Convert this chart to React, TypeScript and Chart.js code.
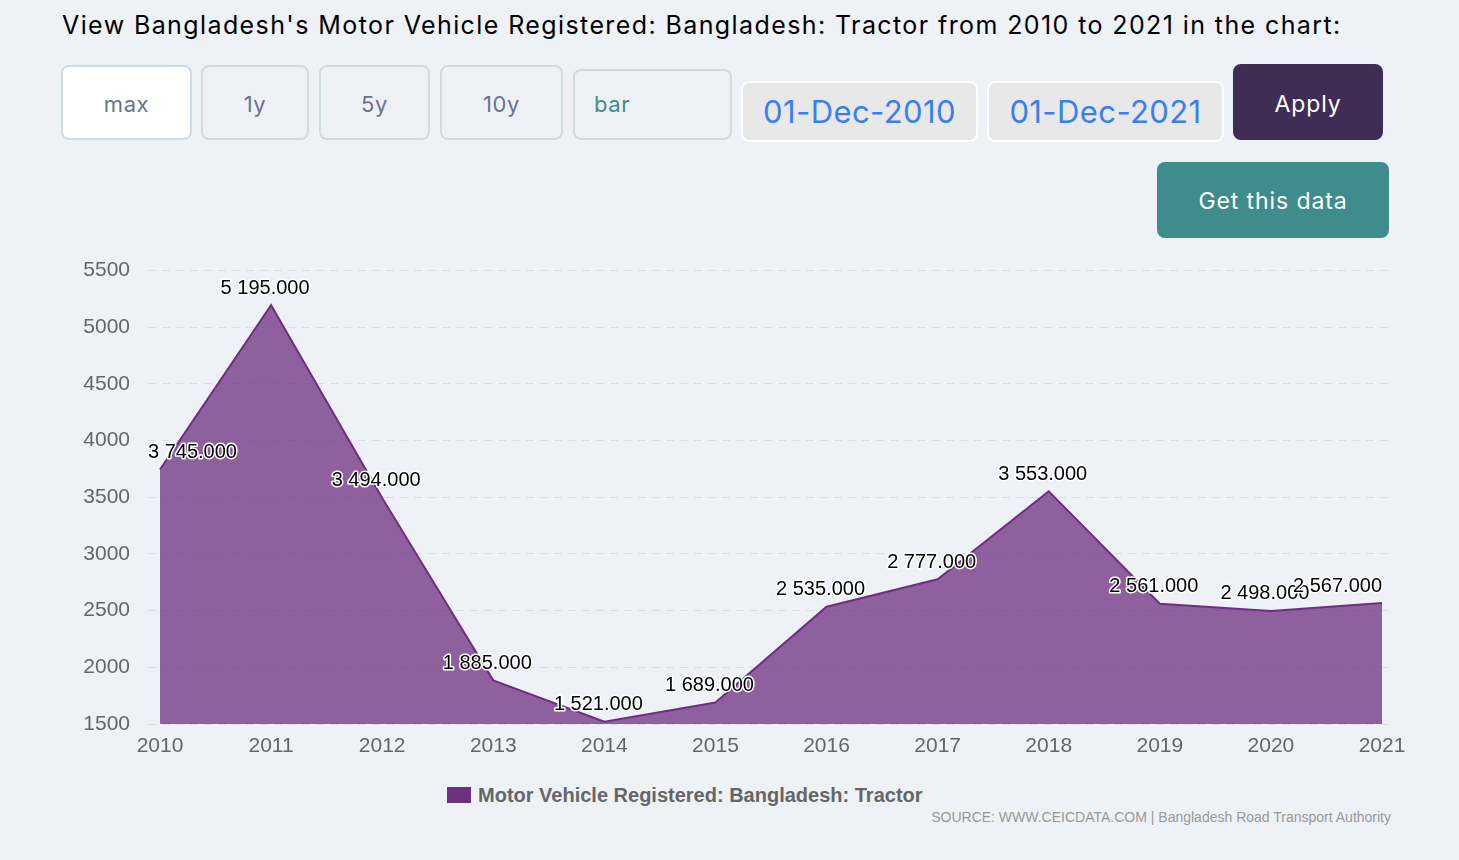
import React, { useEffect, useRef } from "react";
import { Chart, registerables } from "chart.js";

Chart.register(...registerables);

const years: number[] = [2010, 2011, 2012, 2013, 2014, 2015, 2016, 2017, 2018, 2019, 2020, 2021];
const tractorValues: number[] = [3745, 5195, 3494, 1885, 1521, 1689, 2535, 2777, 3553, 2561, 2498, 2567];
const yTicks: number[] = [1500, 2000, 2500, 3000, 3500, 4000, 4500, 5000, 5500];
const seriesLabel = "Motor Vehicle Registered: Bangladesh: Tractor";
const sourceText = "SOURCE: WWW.CEICDATA.COM | Bangladesh Road Transport Authority";

const LINE_COLOR = "#6f2f80";
const FILL_COLOR = "rgba(111,47,128,0.75)";

function fmt(v: number): string {
  const s = v.toFixed(3);
  const [i, d] = s.split(".");
  return i.replace(/\B(?=(\d{3})+(?!\d))/g, " ") + "." + d;
}

const dataLabelPlugin = {
  id: "dataLabels",
  afterDatasetsDraw(chart: any) {
    const ctx = chart.ctx;
    const meta = chart.getDatasetMeta(0);
    const area = chart.chartArea;
    ctx.save();
    ctx.font = "20px 'Liberation Sans', Arial, sans-serif";
    ctx.textBaseline = "middle";
    ctx.textAlign = "left";
    ctx.lineJoin = "round";
    meta.data.forEach((pt: any, i: number) => {
      const text = fmt(tractorValues[i]);
      const w = ctx.measureText(text).width;
      let left = pt.x - 6 - w / 2;
      if (left < area.left) left = area.left;
      if (left + w > area.right - 13) left = area.right - 13 - w;
      const y = pt.y - 17;
      ctx.strokeStyle = "#ffffff";
      ctx.lineWidth = 3;
      ctx.strokeText(text, left, y);
      ctx.fillStyle = "#000000";
      ctx.fillText(text, left, y);
    });
    ctx.restore();
  },
};

function TractorChart() {
  const ref = useRef<HTMLCanvasElement | null>(null);
  useEffect(() => {
    if (!ref.current) return;
    const chart = new Chart(ref.current, {
      type: "line",
      data: {
        datasets: [
          {
            label: seriesLabel,
            data: years.map((y, i) => ({ x: y, y: tractorValues[i] })),
            borderColor: LINE_COLOR,
            backgroundColor: FILL_COLOR,
            borderWidth: 2,
            fill: "start",
            tension: 0,
            pointRadius: 0,
          },
        ],
      },
      options: {
        animation: false,
        responsive: false,
        maintainAspectRatio: false,
        layout: { padding: { top: 29, right: 64, left: 0, bottom: 0 } },
        plugins: {
          legend: { display: false },
          tooltip: { enabled: false },
        },
        scales: {
          x: {
            type: "linear",
            min: 2010 - 12 / 111.09,
            max: 2021 + 13 / 111.09,
            afterBuildTicks: (axis: any) => {
              axis.ticks = years.map((v) => ({ value: v }));
            },
            afterFit: (axis: any) => {
              axis.height = 46;
            },
            grid: { display: false, drawTicks: false },
            border: { display: false },
            ticks: {
              padding: 10,
              color: "#666666",
              font: { family: "'Liberation Sans', Arial, sans-serif", size: 21 },
              callback: (v: any) => String(v),
              maxRotation: 0,
              autoSkip: false,
            },
          },
          y: {
            min: 1500,
            max: 5500,
            afterBuildTicks: (axis: any) => {
              axis.ticks = yTicks.map((v) => ({ value: v }));
            },
            afterFit: (axis: any) => {
              axis.width = 148;
            },
            grid: { color: "#dcdde0", lineWidth: 1, drawTicks: false },
            border: { display: false, dash: [8, 6] },
            ticks: {
              padding: 18,
              color: "#666666",
              font: { family: "'Liberation Sans', Arial, sans-serif", size: 21 },
              callback: (v: any) => String(v),
            },
          },
        },
      },
      plugins: [dataLabelPlugin],
    } as any);
    return () => chart.destroy();
  }, []);
  return <canvas ref={ref} width={1459} height={530} style={{ display: "block", width: 1459, height: 530 }} />;
}

const UI_FONT = "Inter, Roboto, 'Noto Sans', sans-serif";

const btnBase: React.CSSProperties = {
  position: "absolute",
  boxSizing: "border-box",
  display: "flex",
  alignItems: "center",
  justifyContent: "center",
  borderRadius: 8,
  fontFamily: UI_FONT,
};

export default function App() {
  useEffect(() => {
    document.body.style.margin = "0";
    document.body.style.background = "#eef1f6";
  }, []);
  const rangeBtn = (label: string, left: number, width: number, active: boolean) => (
    <div
      style={{
        ...btnBase,
        left,
        top: 65,
        width,
        height: 75,
        border: "2px solid #cfdbe4",
        background: active ? "#ffffff" : "#edf1f6",
        color: "#6b7290",
        fontSize: 22,
        letterSpacing: 0.6,
        paddingTop: 3,
      }}
    >
      {label}
    </div>
  );
  return (
    <div style={{ position: "absolute", left: 0, top: 0, width: 1459, height: 860, background: "#eef1f6", overflow: "hidden" }}>
      <div
        style={{
          position: "absolute",
          left: 62,
          top: 8,
          fontFamily: UI_FONT,
          fontSize: 25,
          letterSpacing: 1.4,
          lineHeight: "34px",
          color: "#000",
          whiteSpace: "nowrap",
        }}
      >
        View Bangladesh's Motor Vehicle Registered: Bangladesh: Tractor from 2010 to 2021 in the chart:
      </div>
      {rangeBtn("max", 61, 131, true)}
      {rangeBtn("1y", 201, 108, false)}
      {rangeBtn("5y", 319, 111, false)}
      {rangeBtn("10y", 440, 123, false)}
      <div
        style={{
          ...btnBase,
          left: 573,
          top: 69,
          width: 159,
          height: 71,
          border: "2px solid #cfdbe4",
          background: "#edf1f6",
          color: "#3f8c8d",
          fontSize: 22,
          letterSpacing: 0.6,
          justifyContent: "flex-start",
          paddingLeft: 19,
          paddingBottom: 2,
        }}
      >
        bar
      </div>
      <div style={{ ...btnBase, left: 741, top: 81, width: 237, height: 61, border: "2px solid #ffffff", background: "#e8e8e8", color: "#3a7ff0", fontSize: 31, letterSpacing: 0.4 }}>
        01-Dec-2010
      </div>
      <div style={{ ...btnBase, left: 987, top: 81, width: 237, height: 61, border: "2px solid #ffffff", background: "#e8e8e8", color: "#3a7ff0", fontSize: 31, letterSpacing: 0.4 }}>
        01-Dec-2021
      </div>
      <div style={{ ...btnBase, left: 1233, top: 64, width: 150, height: 76, background: "#3f2d56", color: "#ffffff", fontSize: 23, letterSpacing: 0.9, paddingTop: 3 }}>
        Apply
      </div>
      <div style={{ ...btnBase, left: 1157, top: 162, width: 232, height: 76, background: "#3f8c8d", color: "#ffffff", fontSize: 23, letterSpacing: 0.9, paddingTop: 2 }}>
        Get this data
      </div>
      <div style={{ position: "absolute", left: 0, top: 240 }}>
        <TractorChart />
      </div>
      <div style={{ position: "absolute", left: 447, top: 787, width: 24, height: 16, background: LINE_COLOR }} />
      <div
        style={{
          position: "absolute",
          left: 478,
          top: 783,
          lineHeight: "24px",
          fontFamily: "'Liberation Sans', Arial, sans-serif",
          fontWeight: "bold",
          fontSize: 20,
          color: "#666666",
          whiteSpace: "nowrap",
        }}
      >
        {seriesLabel}
      </div>
      <div
        style={{
          position: "absolute",
          right: 1459 - 1391,
          top: 808,
          lineHeight: "18px",
          fontFamily: "'Liberation Sans', Arial, sans-serif",
          fontSize: 14,
          color: "#999999",
          whiteSpace: "nowrap",
        }}
      >
        {sourceText}
      </div>
    </div>
  );
}
